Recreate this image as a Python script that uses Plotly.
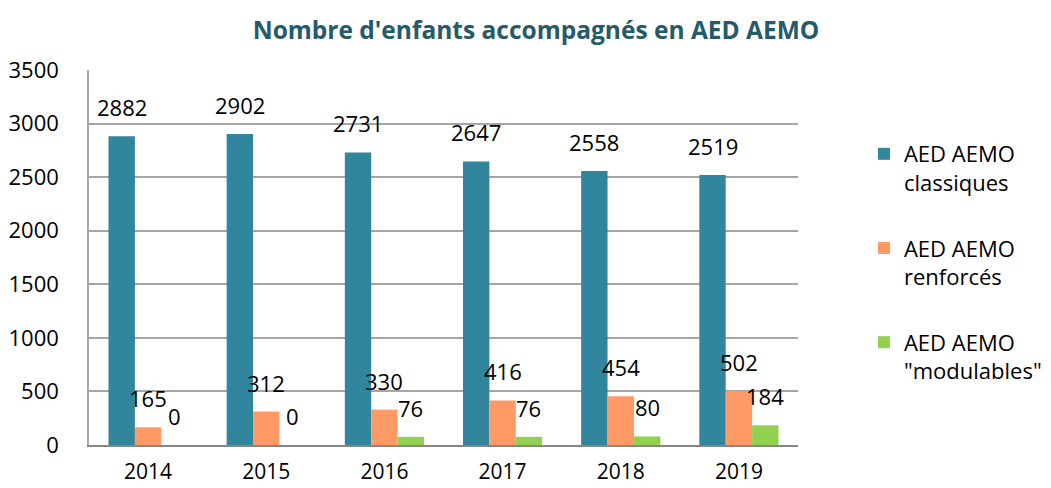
import plotly.graph_objects as go

years = ["2014", "2015", "2016", "2017", "2018", "2019"]
classiques = [2882, 2902, 2731, 2647, 2558, 2519]
renforces = [165, 312, 330, 416, 454, 502]
modulables = [0, 0, 76, 76, 80, 184]

series_names = ["AED AEMO<br>classiques", "AED AEMO<br>renforcés", "AED AEMO<br>\"modulables\""]
series_values = [classiques, renforces, modulables]
colors = ["#31859C", "#FF9966", "#92D050"]

font_family = "Open Sans, DejaVu Sans, sans-serif"
bargap = 0.33
bar_w = (1 - bargap) / 3

fig = go.Figure()
annotations = []
for k, (name, vals, col) in enumerate(zip(series_names, series_values, colors)):
    fig.add_trace(go.Bar(
        x=list(range(len(years))), y=vals, name=name,
        marker=dict(color=col, line=dict(width=0)),
        legendgroup=f"g{k}",
    ))
    off = (k - 1) * bar_w
    for i, v in enumerate(vals):
        annotations.append(dict(
            x=i + off, y=v, xref="x", yref="y", text=str(v),
            showarrow=False, yanchor="bottom", xanchor="center", yshift=12,
            font=dict(family=font_family, size=22, color="#000000"),
        ))

fig.update_layout(
    width=1051, height=488,
    margin=dict(l=89, r=253, t=70, b=43, autoexpand=False),
    paper_bgcolor="white", plot_bgcolor="white",
    barmode="group", bargap=bargap, bargroupgap=0,
    title=dict(
        text="<b>Nombre d'enfants accompagnés en AED AEMO</b>",
        x=536 / 1051, xanchor="center", y=1 - 30 / 488, yanchor="middle",
        font=dict(family=font_family, size=24.5, color="#245A6A"),
    ),
    legend=dict(
        x=1.093, y=0.832, xanchor="left", yanchor="top",
        font=dict(family=font_family, size=22, color="#000000"),
        tracegroupgap=34, valign="top", bgcolor="rgba(0,0,0,0)",
    ),
    annotations=annotations,
    showlegend=True,
)
fig.update_xaxes(
    tickmode="array", tickvals=list(range(len(years))), ticktext=years,
    range=[-0.5, len(years) - 0.5], automargin=False,
    showline=True, linecolor="#868686", linewidth=2,
    showgrid=False, ticks="", ticklabelstandoff=7,
    tickfont=dict(family=font_family, size=21, color="#000000"),
)
fig.update_yaxes(
    range=[0, 3500], dtick=500, tick0=0, automargin=False,
    showline=True, linecolor="#A6A6A6", linewidth=1.5,
    showgrid=True, gridcolor="#A6A6A6", gridwidth=1.5,
    zeroline=False, ticks="", ticklabelstandoff=24,
    tickfont=dict(family=font_family, size=22, color="#000000"),
)

fig.write_html(
    "out.html",
    config={"displayModeBar": False},
    post_script="document.body.style.margin='0';document.body.style.padding='0';",
)
